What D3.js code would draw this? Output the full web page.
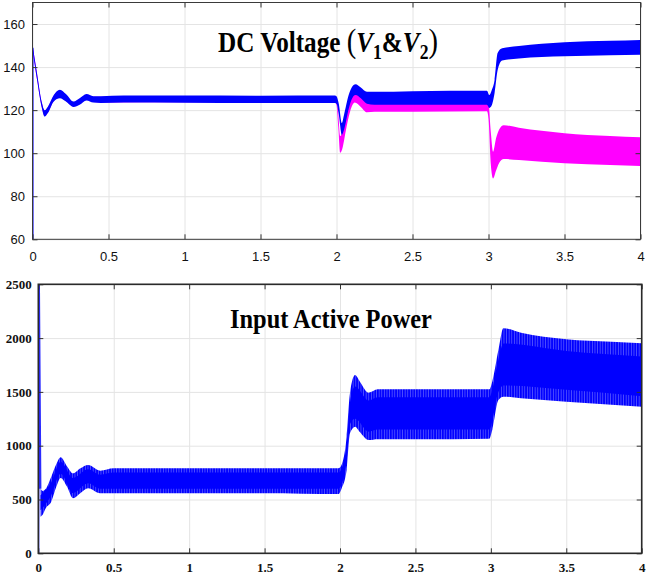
<!DOCTYPE html>
<html>
<head>
<meta charset="utf-8">
<script src="https://cdn.jsdelivr.net/npm/d3@7"></script>
<style>
body { margin: 0; background: #fff; }
svg { display: block; }
.grid line { stroke: #e4e4e4; stroke-width: 1; }
.grid path { display: none; }
.ticks path { display: none; }
.ticks line { stroke: #333; }
</style>
</head>
<body>
<svg id="chart" width="651" height="577"></svg>
<script>
// axis ticks
const timeTicks = [0, 0.5, 1, 1.5, 2, 2.5, 3, 3.5, 4];
const timeLabels = ['0', '0.5', '1', '1.5', '2', '2.5', '3', '3.5', '4'];
const voltTicks = [60, 80, 100, 120, 140, 160];
const powerTicks = [0, 500, 1000, 1500, 2000, 2500];

// DC voltage V1 (blue) ripple band: [time, min, max]
const v1Spike = [[0, 60], [0, 149]];
const v1Band = [
  [0.003, 146.5, 149], [0.03, 134, 137], [0.06, 121.5, 124], [0.08, 117, 120],
  [0.1, 118.5, 121.5], [0.14, 124, 127], [0.18, 125.5, 129.5], [0.22, 124, 127.5],
  [0.27, 121.5, 124], [0.31, 122.5, 125.5], [0.355, 124.5, 127.5], [0.4, 123.5, 126.5],
  [0.45, 123.3, 126.5], [0.6, 123.5, 126.8], [1.0, 123.4, 126.8], [1.5, 123.3, 126.7],
  [1.99, 123.3, 126.8], [2.0, 123, 126.5], [2.015, 118, 123], [2.035, 108.5, 114],
  [2.05, 111, 118], [2.08, 120.5, 127], [2.1, 125, 130.5], [2.125, 127, 132],
  [2.16, 125.5, 130.5], [2.2, 123, 128.5], [2.25, 122.5, 128.5], [2.5, 122.5, 128.8],
  [2.99, 122.5, 129], [3.005, 121, 127], [3.02, 122, 129], [3.04, 128, 134],
  [3.06, 138.5, 146.5], [3.09, 143, 148.7], [3.2, 144, 149.8], [3.5, 145, 151.5],
  [3.8, 145.5, 152.2], [4.0, 145.7, 152.6]
];

// DC voltage V2 (magenta) ripple band: [time, min, max]
const v2Band = [
  [0.003, 146.8, 148.7], [0.03, 134.3, 136.7], [0.06, 121.8, 123.7], [0.08, 117.3, 119.7],
  [0.1, 118.8, 121.2], [0.14, 124.3, 126.7], [0.18, 125.8, 129.2], [0.22, 124.3, 127.2],
  [0.27, 121.8, 123.7], [0.31, 122.8, 125.2], [0.355, 124.8, 127.2], [0.4, 123.8, 126.2],
  [0.45, 123.6, 126.2], [1.0, 123.7, 126.5], [1.99, 123.6, 126.5], [2.0, 122.5, 126],
  [2.012, 112, 118], [2.025, 100.2, 108], [2.04, 102.5, 110], [2.06, 110, 116],
  [2.09, 119.5, 125], [2.12, 123.5, 129], [2.16, 121.5, 127], [2.2, 119, 124.5],
  [2.25, 119.2, 124.2], [2.5, 119.3, 124.3], [2.99, 119.5, 124.3], [3.0, 116, 123],
  [3.015, 95, 110], [3.03, 88.3, 100.7], [3.05, 92, 107], [3.07, 95.5, 111],
  [3.1, 97.3, 113], [3.2, 96.8, 111.8], [3.5, 95.3, 109.3], [3.8, 94.5, 108],
  [4.0, 94, 107.4]
];

// input active power: start-up spike, ripple band and its dense core [time, min, max]
const pSpike = [[0, 0], [0.004, 2600], [0.014, 600]];
const pBand = [
  [0.015, 340, 600], [0.03, 360, 580], [0.05, 420, 600], [0.086, 480, 712],
  [0.12, 620, 830], [0.148, 700, 892], [0.19, 620, 810], [0.23, 511, 743],
  [0.28, 560, 790], [0.33, 604, 820], [0.41, 557, 768], [0.5, 557, 790],
  [1.0, 557, 790], [1.5, 557, 790], [1.99, 550, 790], [2.01, 600, 820],
  [2.044, 774, 1084], [2.066, 1115, 1487], [2.1, 1177, 1657], [2.13, 1130, 1600],
  [2.19, 1053, 1493], [2.25, 1060, 1524], [2.5, 1060, 1524], [2.99, 1065, 1524],
  [3.01, 1150, 1600], [3.05, 1425, 1889], [3.083, 1456, 2091], [3.2, 1440, 2050],
  [3.5, 1409, 1989], [3.8, 1380, 1965], [4.0, 1362, 1952]
];
const pCore = [
  [0.015, 400, 540], [0.086, 540, 660], [0.148, 740, 850], [0.23, 560, 700],
  [0.33, 650, 780], [0.41, 600, 730], [0.5, 600, 750], [1.99, 600, 750],
  [2.044, 850, 1000], [2.066, 1200, 1400], [2.1, 1250, 1550], [2.19, 1130, 1420],
  [2.25, 1150, 1450], [2.99, 1150, 1450], [3.05, 1500, 1800], [3.083, 1560, 1950],
  [3.5, 1520, 1880], [4.0, 1460, 1830]
];

const svg = d3.select('#chart');
const defs = svg.append('defs');

// vertical hatch that mimics the dense ripple of the power trace
const hatch = defs.append('pattern').attr('id', 'hatch')
  .attr('patternUnits', 'userSpaceOnUse').attr('width', 2.6).attr('height', 10);
hatch.append('rect').attr('width', 2.6).attr('height', 10).attr('fill', '#0000ff');
hatch.append('rect').attr('x', 1.7).attr('width', 0.9).attr('height', 10).attr('fill', '#5050ff');

function panel(o) {
  const x = d3.scaleLinear().domain([0, 4]).range(o.xr);
  const y = d3.scaleLinear().domain(o.yd).range(o.yr);
  const [left, right] = o.xr;
  const [bottom, top] = o.yr;
  const g = svg.append('g');

  // grid
  g.append('g').attr('class', 'grid')
    .attr('transform', `translate(0,${bottom})`)
    .call(d3.axisBottom(x).tickValues(timeTicks).tickSize(-(bottom - top)).tickFormat(''));
  g.append('g').attr('class', 'grid')
    .attr('transform', `translate(${left},0)`)
    .call(d3.axisLeft(y).tickValues(o.yTicks).tickSize(-(right - left)).tickFormat(''));

  // data
  const clipId = 'clip-' + o.name;
  defs.append('clipPath').attr('id', clipId)
    .append('rect').attr('x', left).attr('y', top)
    .attr('width', right - left).attr('height', bottom - top);
  const plot = g.append('g').attr('clip-path', `url(#${clipId})`);
  const band = d3.area().curve(d3.curveMonotoneX)
    .x(d => x(d[0])).y0(d => y(d[1])).y1(d => y(d[2]));
  const line = d3.line().x(d => x(d[0])).y(d => y(d[1]));
  o.draw(plot, band, line);

  // ticks on all four sides, pointing inward
  const tk = g.append('g').attr('class', 'ticks');
  tk.append('g').attr('transform', `translate(0,${bottom})`)
    .call(d3.axisBottom(x).tickValues(timeTicks).tickSizeInner(-5).tickSizeOuter(0)
      .tickPadding(o.xPad).tickFormat((d, i) => timeLabels[i]));
  tk.append('g').attr('transform', `translate(0,${top})`)
    .call(d3.axisTop(x).tickValues(timeTicks).tickSizeInner(-5).tickSizeOuter(0).tickFormat(''));
  tk.append('g').attr('transform', `translate(${left},0)`)
    .call(d3.axisLeft(y).tickValues(o.yTicks).tickSizeInner(-5).tickSizeOuter(0)
      .tickPadding(o.yPad).tickFormat(d3.format('d')));
  tk.append('g').attr('transform', `translate(${right},0)`)
    .call(d3.axisRight(y).tickValues(o.yTicks).tickSizeInner(-5).tickSizeOuter(0).tickFormat(''));
  tk.selectAll('text')
    .style('font-family', o.font).style('font-size', o.fontSize + 'px')
    .style('font-weight', o.weight).attr('fill', '#111');

  g.append('rect').attr('x', left).attr('y', top)
    .attr('width', right - left).attr('height', bottom - top)
    .attr('fill', 'none').attr('stroke', o.frame).attr('stroke-width', o.frameWidth);

  return g;
}

// fit a title horizontally to the width it has in the figure
function squeeze(text, cx, baseline, width) {
  const w = text.node().getBBox().width;
  text.attr('transform', `translate(${cx},${baseline}) scale(${width / w},1)`);
}

// ---- DC voltage ----
const voltPanel = panel({
  name: 'volt', xr: [32.5, 640.5], yd: [60, 170], yr: [239.3, 2.5], yTicks: voltTicks,
  font: '"Liberation Sans", Arial, sans-serif',
  fontSize: 13, weight: 'normal', xPad: 12.5, yPad: 7.5, frame: '#3a3a3a', frameWidth: 1,
  draw: (p, band, line) => {
    p.append('path').datum(v2Band).attr('d', band).attr('fill', '#ff00ff');
    p.append('path').datum(v1Band).attr('d', band).attr('fill', '#0000ff');
    p.append('path').datum(v1Spike).attr('d', line)
      .attr('stroke', '#0000ff').attr('stroke-width', 2).attr('fill', 'none');
  }
});

const t1 = voltPanel.append('text')
  .style('font-family', '"Liberation Serif", "Times New Roman", serif')
  .style('font-weight', 'bold').style('font-size', '30px')
  .attr('text-anchor', 'middle').attr('fill', '#000');
t1.append('tspan').text('DC Voltage ');
t1.append('tspan').text('(').style('font-weight', 'normal').style('font-size', '34px');
t1.append('tspan').text('V').style('font-style', 'italic');
t1.append('tspan').text('1').style('font-size', '21px').attr('dy', 7);
t1.append('tspan').text('&').attr('dy', -7);
t1.append('tspan').text('V').style('font-style', 'italic');
t1.append('tspan').text('2').style('font-size', '21px').attr('dy', 7);
t1.append('tspan').text(')').style('font-weight', 'normal').style('font-size', '34px').attr('dy', -7);
squeeze(t1, 328, 52, 220);

// ---- input active power ----
const powerPanel = panel({
  name: 'power', xr: [38.3, 641.7], yd: [0, 2500], yr: [553.3, 284.3], yTicks: powerTicks,
  font: '"Liberation Serif", "Times New Roman", serif',
  fontSize: 13, weight: 'bold', xPad: 9, yPad: 6.5, frame: '#2a2a2a', frameWidth: 1.6,
  draw: (p, band, line) => {
    p.append('path').datum(pBand).attr('d', band).attr('fill', 'url(#hatch)');
    p.append('path').datum(pCore).attr('d', band).attr('fill', '#0000ff');
    p.append('path').datum(pSpike).attr('d', line)
      .attr('stroke', '#2b2bff').attr('stroke-width', 2).attr('fill', 'none');
  }
});

const t2 = powerPanel.append('text')
  .style('font-family', '"Liberation Serif", "Times New Roman", serif')
  .style('font-weight', 'bold').style('font-size', '28px')
  .attr('text-anchor', 'middle').attr('fill', '#000')
  .text('Input Active Power');
squeeze(t2, 331, 328, 202);
</script>
</body>
</html>
